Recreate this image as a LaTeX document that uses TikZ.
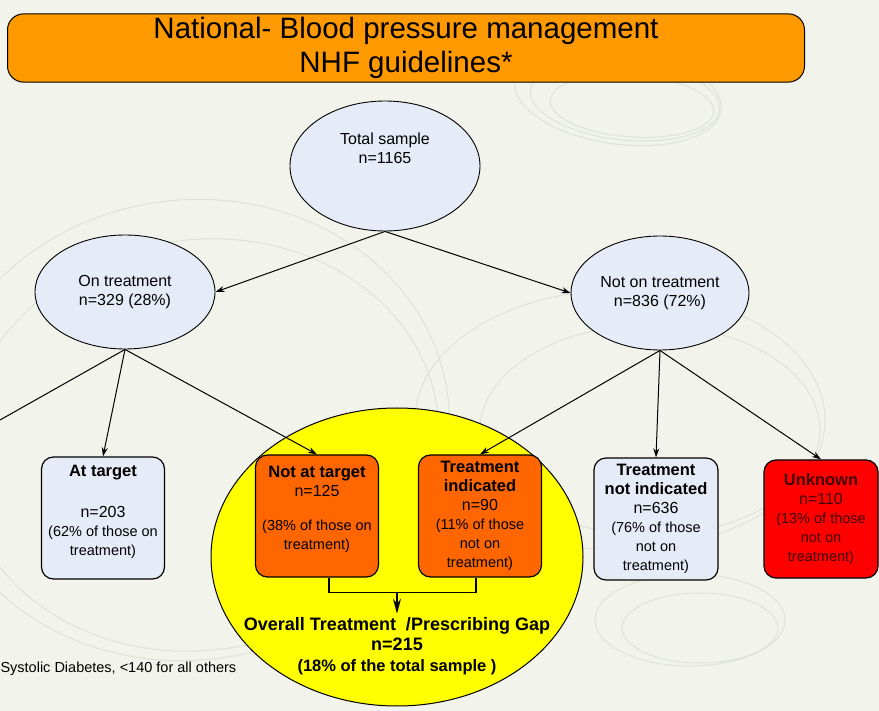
\documentclass[tikz,border=0pt]{standalone}
\usepackage{fontspec}
\setmainfont{Liberation Sans}
\usetikzlibrary{shapes.geometric,arrows.meta}

\definecolor{paper}{HTML}{F2F3EB}
\definecolor{swirl}{HTML}{DDE4D7}
\definecolor{paleblue}{HTML}{E6ECF7}
\definecolor{titleorange}{HTML}{FF9900}
\definecolor{gaporange}{HTML}{FF6600}
\definecolor{gapyellow}{HTML}{FFFF00}
\definecolor{unkred}{HTML}{FF0000}

\newcommand{\hd}[1]{{\bfseries\fontsize{16.5}{19}\selectfont #1}}
\newcommand{\nn}[1]{{\fontsize{16}{19}\selectfont #1}}

\begin{document}
\begin{tikzpicture}[x=1pt,y=-1pt,
    oval/.style={ellipse,draw,line width=0.9pt,fill=paleblue,align=center,
      font=\fontsize{16}{19.5}\selectfont},
    box/.style={draw,line width=1.2pt,rounded corners=12pt,align=center,
      minimum width=123pt,minimum height=122pt,font=\fontsize{14.5}{19}\selectfont},
    link/.style={-{Stealth[length=9pt,width=6pt]},line width=1pt},
    swirly/.style={swirl,line width=1pt}]
  \fill[paper] (0,0) rectangle (879,711);
  \useasboundingbox (0,0) rectangle (879,711);
  \clip (0,0) rectangle (879,711);

  % faint background rings
  \draw[swirly,rotate around={-6:(625,100)}] (625,100) ellipse [x radius=95pt,y radius=40pt];
  \draw[swirly,rotate around={-4:(632,106)}] (632,106) ellipse [x radius=82pt,y radius=31pt];
  \draw[swirly,rotate around={-8:(618,96)}] (618,96) ellipse [x radius=104pt,y radius=48pt];
  \draw[swirly] (620,420) ellipse [x radius=205pt,y radius=130pt];
  \draw[swirly] (650,430) ellipse [x radius=170pt,y radius=105pt];
  \draw[swirly] (690,620) ellipse [x radius=95pt,y radius=46pt];
  \draw[swirly] (700,628) ellipse [x radius=78pt,y radius=35pt];
  \draw[swirly,rotate around={8:(190,430)}] (190,430) ellipse [x radius=260pt,y radius=230pt];
  \draw[swirly,rotate around={10:(200,445)}] (200,445) ellipse [x radius=240pt,y radius=205pt];

  \node[draw,line width=1pt,rounded corners=16pt,fill=titleorange,minimum width=797pt,
    minimum height=68pt,align=center,font=\fontsize{29.5}{34}\selectfont]
    (title) at (406,48) {National- Blood pressure management\\NHF guidelines*};

  \node[oval,minimum width=190pt,minimum height=130pt] (total) at (385,166) {Total sample\\n=1165\\[16pt]\mbox{}};
  \node[oval,minimum width=180pt,minimum height=114pt] (ontreat) at (125,292) {On treatment\\n=329  (28\%)};
  \node[oval,minimum width=176pt,minimum height=114pt] (notontreat) at (660,293) {Not on treatment\\n=836  (72\%)};

  \node[ellipse,draw,line width=1pt,fill=gapyellow,minimum width=372pt,minimum height=298pt] (gap) at (397,557) {};

  \node[box,fill=paleblue] (attarget) at (103,518) {\hd{At target}\\[22pt]\nn{n=203}\\(62\% of those on\\treatment)\\[-4pt]\mbox{}};
  \node[box,fill=gaporange] (notattarget) at (317,516) {\hd{Not at target}\\\nn{n=125}\\[15pt](38\% of those on\\treatment)\\[-2pt]\mbox{}};
  \node[box,fill=gaporange] (treatind) at (480,516) {\hd{Treatment}\\\hd{indicated}\\\nn{n=90}\\(11\% of those\\not on\\treatment)};
  \node[box,fill=paleblue,minimum width=124pt] (treatnotind) at (656,519) {\hd{Treatment}\\\hd{not indicated}\\\nn{n=636}\\(76\% of those\\not on\\treatment)};
  \node[box,fill=unkred,minimum width=114pt,minimum height=118pt,text=black!75!red] (unknown) at (821,519) {\hd{Unknown}\\\nn{n=110}\\(13\% of those\\not on\\treatment)};

  \node[align=center,font=\bfseries\fontsize{18}{20.5}\selectfont] (gaptext) at (397,646)
    {Overall Treatment \ /Prescribing Gap\\n=215\\{\fontsize{16.5}{20}\selectfont(18\% of the total sample )}};

  \node[anchor=west,font=\fontsize{14.5}{16}\selectfont] (note) at (-3,669) {Systolic Diabetes, <140 for all others};

  \coordinate (offleft) at (0,420);
  \draw[link] (total.south) -- (ontreat.east);
  \draw[link] (total.south) -- (notontreat.west);
  \draw[line width=1pt] (ontreat.south) -- (offleft);
  \draw[link] (ontreat.south) -- (attarget.north);
  \draw[link] (ontreat.south) -- (notattarget.north);
  \draw[link] (notontreat.south) -- (treatind.north);
  \draw[link] (notontreat.south) -- (treatnotind.north);
  \draw[link] (notontreat.south) -- (unknown.north);

  \draw[line width=1.2pt] ([xshift=12pt]notattarget.south) -- ++(0,15) coordinate (bl)
    -| ([xshift=-4pt]treatind.south);
  \coordinate (join) at (397,593);
  \draw[-{Stealth[length=15pt,width=8pt]},line width=1.5pt] (join) -- (gaptext.north);
\end{tikzpicture}
\end{document}
